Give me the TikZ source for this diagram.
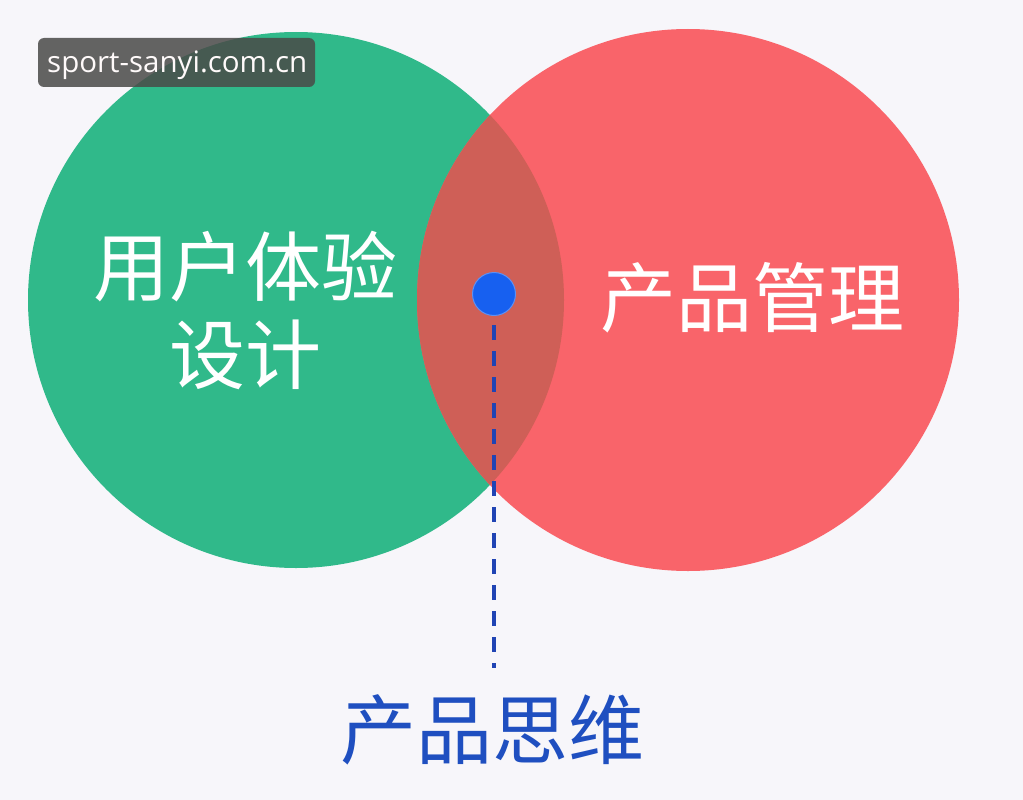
\documentclass[tikz,border=0pt]{standalone}
\usepackage{fontspec}
\newfontfamily\cjk{Noto Sans CJK SC}
\newfontfamily\wm{Open Sans}
\definecolor{bg}{HTML}{F7F6FA}
\definecolor{gr}{HTML}{30B98A}
\definecolor{rd}{HTML}{F9646A}
\definecolor{mix}{HTML}{CF5F57}
\definecolor{dotblue}{HTML}{1760F0}
\definecolor{lineblue}{HTML}{2044B4}
\definecolor{lbl}{HTML}{1F4FC0}
\definecolor{wmbg}{HTML}{4A4A48}
\begin{document}
\begin{tikzpicture}[x=1pt,y=-1pt,
  bigtext/.style={text=white,font=\cjk\fontsize{76}{88}\selectfont,align=center,inner sep=0pt},
  lowtext/.style={text=lbl,font=\cjk\fontsize{76}{88}\selectfont,inner sep=0pt}]
\fill[bg] (0,0) rectangle (1023,800);
\useasboundingbox (0,0) rectangle (1023,800);
\coordinate (gc) at (296,300);
\coordinate (rc) at (688,300);
\fill[gr] (gc) circle[radius=268];
\fill[rd] (rc) circle[radius=271];
\begin{scope}
  \clip (gc) circle[radius=268];
  \fill[mix] (rc) circle[radius=271];
\end{scope}
\node[bigtext] (ux) at (245,310) {用户体验\\设计};
\node[bigtext] (pm) at (752,298) {产品管理};
\node[circle,fill=dotblue,draw=dotblue!70!white,line width=1pt,minimum size=43pt,inner sep=0pt] (d) at (494,294) {};
\coordinate (e) at (494,668);
\draw[lineblue,line width=4pt,dash pattern=on 15pt off 11pt] ([yshift=-9pt]d.south) -- (e);
\node[lowtext] (pt) at (492,730) {产品思维};
\fill[wmbg,opacity=0.85,rounded corners=6pt] (38,38) rectangle (315,87);
\node[text=white!92!pink,font=\wm\fontsize{29.5}{33}\selectfont,anchor=west,inner sep=0pt] (w) at (47,65) {sport-sanyi.com.cn};
\end{tikzpicture}
\end{document}
